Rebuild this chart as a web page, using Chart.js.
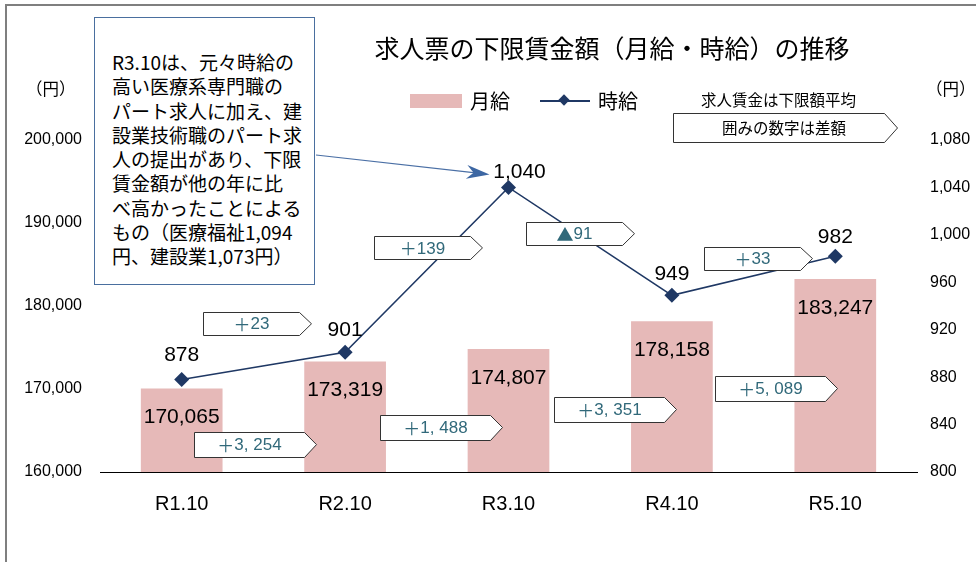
<!DOCTYPE html>
<html lang="ja">
<head>
<meta charset="utf-8">
<script src="https://cdn.jsdelivr.net/npm/chart.js@4.4.0/dist/chart.umd.min.js"></script>
<style>
  body { margin: 0; background: #fff; font-family: "Noto Sans CJK JP", sans-serif; }
  #wrap { position: relative; width: 976px; height: 562px; overflow: hidden; }
  #frame { position: absolute; left: 5px; top: 4px; width: 990px; height: 580px;
           border-top: 2px solid #7f7f7f; border-left: 2px solid #7f7f7f; }
  canvas { position: absolute; left: 0; top: 0; }
  .t { position: absolute; white-space: nowrap; line-height: 1; color: #000; }
  #title { left: 612px; top: 35px; font-size: 25px; transform: translateX(-50%); }
  #note { position: absolute; left: 94px; top: 17px; width: 221px; height: 268px; box-sizing: border-box;
          border: 1.5px solid #4a6f9f; background: #fff; padding: 32px 0 0 17px;
          font-size: 19px; line-height: 24.3px; }
  .swatch { position: absolute; left: 410px; top: 94px; width: 52px; height: 14px; background: #e6b9b8; }
  .legline { position: absolute; left: 540px; top: 100px; width: 50px; height: 2px; background: #1f3864; }
  .legdia { position: absolute; left: 560px; top: 96px; width: 8px; height: 8px; background: #1f3864; transform: rotate(45deg); }
</style>
</head>
<body>
<div id="wrap">
  <canvas id="chart" width="976" height="562"></canvas>
  <div id="frame"></div>
  <div class="t" id="title">求人票の下限賃金額（月給・時給）の推移</div>
  <div class="t" style="left:26px; top:80px; font-size:16.5px;">（円）</div>
  <div class="t" style="left:926px; top:80px; font-size:16.5px;">（円）</div>
  <div class="swatch"></div>
  <div class="t" style="left:470px; top:91px; font-size:20px;">月給</div>
  <div class="legline"></div>
  <div class="legdia"></div>
  <div class="t" style="left:598px; top:91px; font-size:20px;">時給</div>
  <div class="t" style="left:701px; top:92px; font-size:15.5px;">求人賃金は下限額平均</div>
  <svg style="position:absolute; left:0; top:0;" width="976" height="562">
    <polygon points="673.5,113.5 884.5,113.5 897.5,128 884.5,142.5 673.5,142.5" fill="#fff" stroke="#333" stroke-width="1"/>
  </svg>
  <div class="t" style="left:722px; top:120px; font-size:15.5px;">囲みの数字は差額</div>
  <div id="note">R3.10は、元々時給の<br>高い医療系専門職の<br>パート求人に加え、建<br>設業技術職のパート求<br>人の提出があり、下限<br>賃金額が他の年に比<br>べ高かったことによる<br>もの（医療福祉1,094<br>円、建設業1,073円）</div>
</div>
<script>
const categories = ['R1.10', 'R2.10', 'R3.10', 'R4.10', 'R5.10'];
const monthlyWage = [170065, 173319, 174807, 178158, 183247];
const hourlyWage = [878, 901, 1040, 949, 982];
const monthlyDiffs = ['＋3, 254', '＋1, 488', '＋3, 351', '＋5, 089'];
const hourlyDiffs = ['＋23', '＋139', '▲91', '＋33'];

// where the difference boxes sit, in axis units (category index, axis value)
const monthlyDiffPos = [[0.45, 163300], [1.585, 165360], [2.65, 167530], [3.64, 170060]];
const hourlyDiffPos = [[0.46, 925], [1.505, 989], [2.44, 1001], [3.525, 980]];
const hourlyLabelOffsets = [[0, -24], [0, -22], [11, -15], [0, -21], [0, -19]];

const numFont = "'Liberation Sans', Arial, sans-serif";
const jpFont = "'Noto Sans CJK JP', sans-serif";

function diffBox(ctx, cx, cy, w, h, text) {
  const x0 = Math.round(cx - w / 2) + 0.5, x1 = Math.round(cx + w / 2) + 0.5;
  const y0 = Math.round(cy - h / 2) + 0.5, y1 = Math.round(cy + h / 2) + 0.5;
  const tip = 12;
  ctx.beginPath();
  ctx.moveTo(x0, y0);
  ctx.lineTo(x1 - tip, y0);
  ctx.lineTo(x1, cy);
  ctx.lineTo(x1 - tip, y1);
  ctx.lineTo(x0, y1);
  ctx.closePath();
  ctx.fillStyle = '#fff';
  ctx.fill();
  ctx.strokeStyle = '#333';
  ctx.lineWidth = 1;
  ctx.stroke();

  // sign in the CJK font (full width), digits in the sans font
  const sign = text[0], rest = text.slice(1);
  ctx.fillStyle = '#31697a';
  ctx.textAlign = 'left';
  ctx.textBaseline = 'middle';
  ctx.font = '17px ' + jpFont;
  const ws = ctx.measureText(sign).width;
  ctx.font = '17px ' + numFont;
  const wr = ctx.measureText(rest).width;
  let x = (x0 + x1 - tip) / 2 - (ws + wr) / 2;
  ctx.font = '17px ' + jpFont;
  ctx.fillText(sign, x, cy + 1);
  ctx.font = '17px ' + numFont;
  ctx.fillText(rest, x + ws, cy + 1);
}

const labelPlugin = {
  id: 'labels',
  afterDatasetsDraw(chart) {
    const ctx = chart.ctx;
    const xs = chart.scales.x, yL = chart.scales.y, yR = chart.scales.y1;
    ctx.save();

    // arrow from the note box to the R3.10 point
    const p = chart.getDatasetMeta(0).data[2];
    const tx = p.x - 19, ty = p.y - 13;
    const sx = 316, sy = 155;
    const ang = Math.atan2(ty - sy, tx - sx);
    ctx.strokeStyle = '#4a6fa5';
    ctx.lineWidth = 1.2;
    ctx.beginPath();
    ctx.moveTo(sx, sy);
    ctx.lineTo(tx - 14 * Math.cos(ang), ty - 14 * Math.sin(ang));
    ctx.stroke();
    ctx.save();
    ctx.translate(tx, ty);
    ctx.rotate(ang);
    ctx.fillStyle = '#3d67a3';
    ctx.beginPath();
    ctx.moveTo(0, 0);
    ctx.lineTo(-23, -7);
    ctx.lineTo(-16, 0);
    ctx.lineTo(-23, 7);
    ctx.closePath();
    ctx.fill();
    ctx.restore();

    // bar values
    ctx.fillStyle = '#000';
    ctx.font = '21px ' + numFont;
    ctx.textAlign = 'center';
    ctx.textBaseline = 'middle';
    chart.getDatasetMeta(1).data.forEach((bar, i) => {
      ctx.fillText(monthlyWage[i].toLocaleString('en-US'), bar.x, bar.y + 29);
    });
    // point values
    chart.getDatasetMeta(0).data.forEach((pt, i) => {
      const o = hourlyLabelOffsets[i];
      ctx.fillText(hourlyWage[i].toLocaleString('en-US'), pt.x + o[0], pt.y + o[1]);
    });

    // difference boxes
    monthlyDiffs.forEach((t, i) => {
      const [xi, v] = monthlyDiffPos[i];
      diffBox(ctx, xs.getPixelForValue(xi), yL.getPixelForValue(v), 122, 25, t);
    });
    hourlyDiffs.forEach((t, i) => {
      const [xi, v] = hourlyDiffPos[i];
      diffBox(ctx, xs.getPixelForValue(xi), yR.getPixelForValue(v), 108, 23, t);
    });
    ctx.restore();
  }
};

function drawChart() {
  new Chart(document.getElementById('chart'), {
    data: {
      labels: categories,
      datasets: [
        {
          type: 'line', label: '時給', data: hourlyWage, yAxisID: 'y1', order: 0,
          borderColor: '#1f3864', borderWidth: 1.5, backgroundColor: '#1f3864',
          pointStyle: 'rectRot', pointRadius: 7.5, pointBorderWidth: 0, tension: 0
        },
        {
          type: 'bar', label: '月給', data: monthlyWage, yAxisID: 'y', order: 1,
          backgroundColor: '#e6b9b8', categoryPercentage: 1, barPercentage: 0.5
        }
      ]
    },
    options: {
      responsive: false,
      animation: false,
      devicePixelRatio: 1,
      layout: { padding: { top: 140, left: 0, right: 0, bottom: 0 } },
      plugins: { legend: { display: false }, tooltip: { enabled: false } },
      scales: {
        x: {
          grid: { display: false, drawTicks: false },
          border: { display: true, color: '#000', width: 1 },
          ticks: { color: '#000', padding: 20, font: { size: 20, family: numFont } },
          afterFit: s => { s.height = 90; }
        },
        y: {
          position: 'left', min: 160000, max: 200000,
          grid: { display: false, drawTicks: false },
          border: { display: false },
          ticks: { stepSize: 10000, color: '#000', padding: 18, font: { size: 16, family: numFont },
                   callback: v => v.toLocaleString('en-US') },
          afterFit: s => { s.width = 100; }
        },
        y1: {
          position: 'right', min: 800, max: 1080,
          grid: { display: false, drawTicks: false },
          border: { display: false },
          ticks: { stepSize: 40, color: '#000', padding: 13, font: { size: 16, family: numFont },
                   callback: v => v.toLocaleString('en-US') },
          afterFit: s => { s.width = 59; }
        }
      }
    },
    plugins: [labelPlugin]
  });
}

// canvas text needs the fonts loaded first
Promise.all([
  document.fonts.load('17px "Noto Sans CJK JP"', '＋▲'),
  document.fonts.load('21px "Liberation Sans"', '0123456789,')
]).then(drawChart, drawChart);
</script>
</body>
</html>
